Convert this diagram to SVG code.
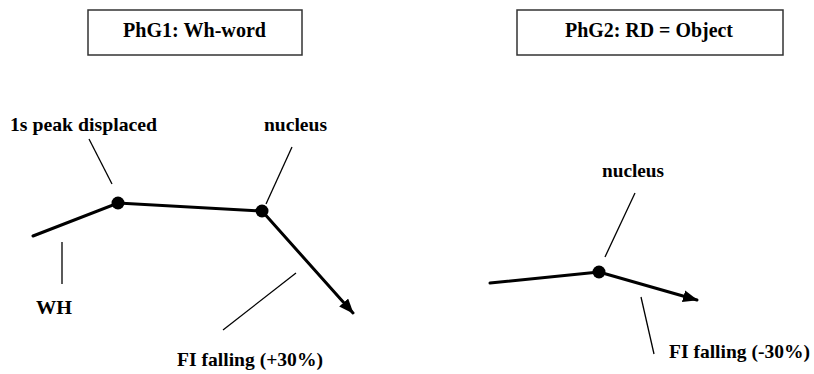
<svg xmlns="http://www.w3.org/2000/svg" width="814" height="374" viewBox="0 0 814 374">
<style>
text{font-family:"Liberation Serif","Times New Roman",serif;font-weight:bold;font-size:19.5px;fill:#000}
.title{font-size:20.5px}
.box{fill:#fff;stroke:#333;stroke-width:1.5}
.main{stroke:#000;stroke-width:3;fill:none;stroke-linecap:round}
.lead{stroke:#000;stroke-width:1.3;fill:none}
.dot{fill:#000}
</style>
<defs>
<marker id="arr" markerUnits="userSpaceOnUse" markerWidth="16" markerHeight="14" refX="14" refY="6" orient="auto">
<path d="M0,0 L15,6 L0,12 Z" fill="#000"/>
</marker>
</defs>
<rect width="814" height="374" fill="#fff"/>
<g id="title1"><rect class="box" x="88" y="10" width="214" height="45"/><text class="title" x="123" y="37" textLength="143" lengthAdjust="spacingAndGlyphs">PhG1: Wh-word</text></g>
<g id="title2"><rect class="box" x="517" y="10" width="266" height="45"/><text class="title" x="565" y="37" textLength="168" lengthAdjust="spacingAndGlyphs">PhG2: RD = Object</text></g>
<g id="connectors">
<polyline class="main" points="33,236 118,203 262,211"/>
<line class="main" x1="262" y1="211" x2="353" y2="313" marker-end="url(#arr)"/>
<line class="main" x1="490" y1="283" x2="599" y2="272"/>
<line class="main" x1="599" y1="272" x2="697" y2="300" marker-end="url(#arr)"/>
<line class="lead" x1="89" y1="139" x2="112" y2="184"/>
<line class="lead" x1="292" y1="147" x2="266" y2="204"/>
<line class="lead" x1="62" y1="242" x2="62" y2="284"/>
<line class="lead" x1="296" y1="273" x2="223" y2="330"/>
<line class="lead" x1="635" y1="193" x2="605" y2="257"/>
<line class="lead" x1="641" y1="297" x2="654" y2="354"/>
</g>
<g id="peak1"><circle class="dot" cx="118" cy="203" r="6.5"/><text x="10" y="131" textLength="147" lengthAdjust="spacingAndGlyphs">1s peak displaced</text></g>
<g id="nucleus1"><circle class="dot" cx="262" cy="211" r="6.5"/><text x="264" y="131" textLength="63" lengthAdjust="spacingAndGlyphs">nucleus</text></g>
<g id="wh"><text x="36" y="314" textLength="36" lengthAdjust="spacingAndGlyphs">WH</text></g>
<g id="fall1"><text x="177" y="366" textLength="146" lengthAdjust="spacingAndGlyphs">FI falling (+30%)</text></g>
<g id="nucleus2"><circle class="dot" cx="599" cy="272" r="6.5"/><text x="602" y="177" textLength="62" lengthAdjust="spacingAndGlyphs">nucleus</text></g>
<g id="fall2"><text x="669" y="358" textLength="141" lengthAdjust="spacingAndGlyphs">FI falling (-30%)</text></g>
</svg>
